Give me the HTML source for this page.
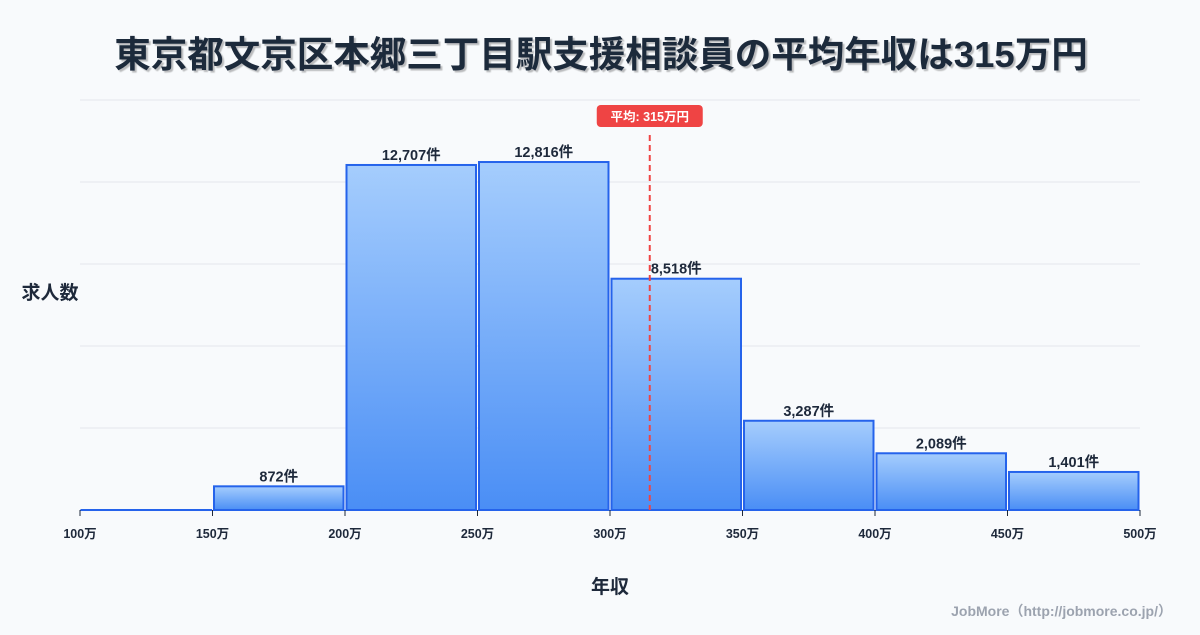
<!DOCTYPE html>
<html><head><meta charset="utf-8"><style>
html,body{margin:0;padding:0;background:#f8fafc;}
body{width:1200px;height:630px;overflow:hidden;font-family:"Liberation Sans","Noto Sans CJK JP",sans-serif;}
</style></head><body>
<svg id="chart" width="1200" height="630" xmlns="http://www.w3.org/2000/svg" font-family="'Liberation Sans','Noto Sans CJK JP',sans-serif">
<defs>
<linearGradient id="g" x1="0" y1="0" x2="0" y2="1"><stop offset="0" stop-color="#a5cdfd"/><stop offset="1" stop-color="#4a8ef5"/></linearGradient>
<filter id="sh"><feDropShadow dx="2" dy="2" stdDeviation="0.5" flood-color="#000" flood-opacity="0.25"/></filter>
</defs>
<text x="601" y="67" text-anchor="middle" font-size="36.5" font-weight="bold" fill="#1e293b" filter="url(#sh)">東京都文京区本郷三丁目駅支援相談員の平均年収は315万円</text>
<g id="grid"></g>
<g id="bars"></g>
<g id="xaxis"></g>
<text x="50" y="299" text-anchor="middle" font-size="19" font-weight="bold" fill="#1e293b">求人数</text>
<text x="610" y="593" text-anchor="middle" font-size="19" font-weight="bold" fill="#1e293b">年収</text>
<text x="1172" y="616" text-anchor="end" font-size="14" font-weight="bold" fill="#9ca3af">JobMore（http://jobmore.co.jp/）</text>
<g id="mean"></g>
</svg>
<script>
const binStarts=[100,150,200,250,300,350,400,450];
const counts=[0,872,12707,12816,8518,3287,2089,1401];
const countLabels=["","872件","12,707件","12,816件","8,518件","3,287件","2,089件","1,401件"];
const xTicks=[100,150,200,250,300,350,400,450,500];
const meanValue=[315];
const NS="http://www.w3.org/2000/svg";
const X0=80,X1=1140,Y0=510,Y1=100,XMIN=100,XMAX=500,YMAX=15100;
const xs=v=>X0+(v-XMIN)/(XMAX-XMIN)*(X1-X0);
const ys=v=>Y0-v/YMAX*(Y0-Y1);
function mk(t,a,p){const e=document.createElementNS(NS,t);for(const k in a)e.setAttribute(k,a[k]);p.appendChild(e);return e;}
const grid=document.getElementById('grid');
for(let i=0;i<=5;i++){
 const y=Y0-i*(Y0-Y1)/5;
 const l=mk('line',{x1:X0,x2:X1,y1:y,y2:y,stroke:'#e5e7eb','stroke-width':1},grid);
 
 
}
const bars=document.getElementById('bars');
binStarts.forEach((b,i)=>{
 const x=xs(b)+1.5,w=xs(b+50)-xs(b)-3,y=ys(counts[i]);
 const r=mk('rect',{x:x,y:y,width:w,height:Math.max(Y0-y,0.01),fill:'url(#g)',stroke:'#2563eb','stroke-width':2},bars);
 
 
 if(countLabels[i]){
  const t=mk('text',{x:x+w/2,y:y-5,'text-anchor':'middle','font-size':14.5,'font-weight':'bold',fill:'#1e293b'},bars);
  t.textContent=countLabels[i];
  
  
 }
});
const xa=document.getElementById('xaxis');
xTicks.forEach(v=>{
 const l=mk('line',{x1:xs(v),x2:xs(v),y1:Y0,y2:Y0+6,stroke:'#1e293b','stroke-width':1},xa);
 
 
 const t=mk('text',{x:xs(v),y:Y0+28,'text-anchor':'middle','font-size':12.5,'font-weight':'bold',fill:'#1e293b'},xa);
 t.textContent=v+'万';
 
 
});
const mg=document.getElementById('mean');
const mx=xs(meanValue[0]);
const ml=mk('line',{x1:mx,x2:mx,y1:135,y2:Y0,stroke:'#ef4444','stroke-width':2,'stroke-dasharray':'6,4'},mg);


const mr=mk('rect',{x:mx-53,y:105,width:106,height:22,rx:4,fill:'#ef4444'},mg);


const mt=mk('text',{x:mx,y:121,'text-anchor':'middle','font-size':12.5,'font-weight':'bold',fill:'#fff'},mg);
mt.textContent='平均: '+meanValue[0]+'万円';


</script>
</body></html>
